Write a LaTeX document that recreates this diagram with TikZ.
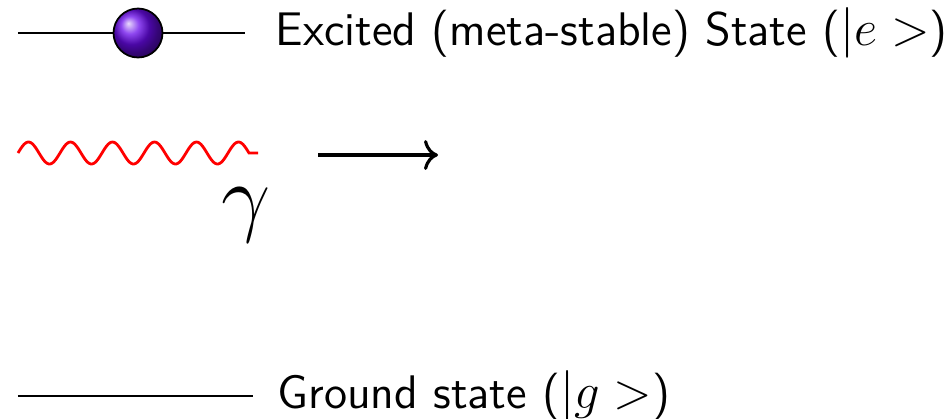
\documentclass[tikz,border=0pt]{standalone}
\usepackage{amsmath,amssymb}
\usepackage{tikz}
\usetikzlibrary{arrows.meta,positioning}
\usepackage{xcolor}

\definecolor{atomviolet}{RGB}{105,10,235}

\begin{document}
\begin{tikzpicture}[
    level/.style={line width=0.75pt, black},
    label/.style={anchor=west, inner sep=0pt, font=\sffamily\fontsize{13.4}{16}\selectfont},
    atom/.style={circle, draw=black, line width=0.5pt, ball color=atomviolet, minimum size=0.49cm, inner sep=0pt},
    photon/.style={red, line width=0.8pt},
    emit/.style={line width=0.9pt, -{To[length=1.4mm,width=3mm]}}
]
    \useasboundingbox (0,0) rectangle (9.48,-4.18);

    % excited level
    \coordinate (e0) at (0.18,-0.33);
    \coordinate (e1) at (2.45,-0.33);
    \node[atom] (el) at (1.38,-0.33) {};
    \draw[level] (e0) -- (el.west);
    \draw[level] (el.east) -- (e1);
    \node[label, right=0.30cm of e1] (etext) {Excited (meta-stable) State ($|e>$)};

    % photon
    \coordinate (w0) at (0.18,-1.53);
    \coordinate (w1) at (2.58,-1.53);
    \draw[photon, shift={(w0)}] plot[domain=0:2.31, samples=160, smooth] (\x,{0.11*sin(\x*360/0.42)}) -- (w1);
    \node[font=\fontsize{26.5}{30}\selectfont] (gam) at (2.46,-2.15) {$\gamma$};
    \coordinate (a0) at (3.18,-1.55);
    \coordinate (a1) at (4.38,-1.55);
    \draw[emit] (a0) -- (a1);

    % ground level
    \coordinate (g0) at (0.18,-3.96);
    \coordinate (g1) at (2.53,-3.96);
    \draw[level] (g0) -- (g1);
    \node[label, right=0.24cm of g1] (gtext) {Ground state ($|g>$)};
\end{tikzpicture}
\end{document}
